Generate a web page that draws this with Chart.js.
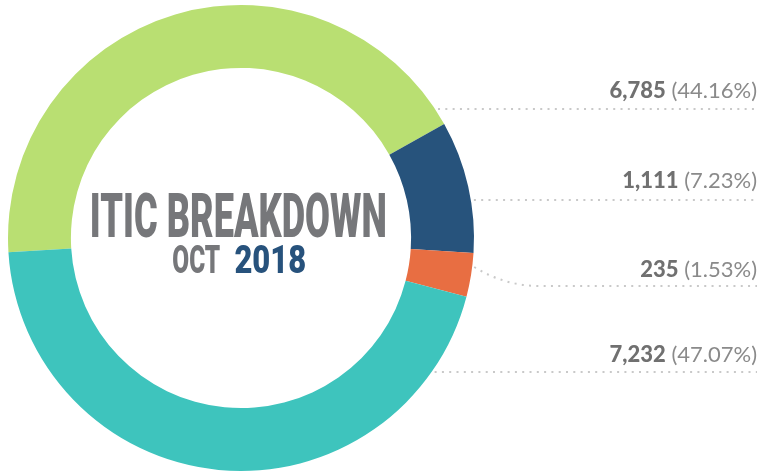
<!DOCTYPE html>
<html>
<head>
<meta charset="utf-8">
<script src="https://cdn.jsdelivr.net/npm/chart.js@4.4.1/dist/chart.umd.min.js"></script>
<style>
  html, body { margin: 0; padding: 0; background: #fff; }
  #itic { display: block; }
</style>
</head>
<body>
<canvas id="itic" width="758" height="475"></canvas>
<script>
"use strict";

// values as printed on the right
const counts = [6785, 1111, 235, 7232];
const countLabels = ["6,785", "1,111", "235", "7,232"];
const percentLabels = ["44.16%", "7.23%", "1.53%", "47.07%"];
// sweep of each slice as drawn in the picture (degrees)
const sliceDegrees = [154.2, 33.0, 10.9, 161.9];
const sliceColors = ["#b9df72", "#27537c", "#e86e42", "#3ec4bd"];

const titleLine = "ITIC BREAKDOWN";
const subLine = ["OCT", "2018"];

// label rows: text baseline and dotted line y
const rowBaseline = [98, 188, 277, 362];
const rowLineY = [109, 200, 286, 372];

const grey = "#76777a";
const blue = "#27527c";

// draw text squeezed into a box (cap height / width)
function fitText(ctx, text, font, left, baseline, width, capH) {
  ctx.save();
  ctx.font = font;
  const m = ctx.measureText(text);
  const sx = width / (m.actualBoundingBoxRight + m.actualBoundingBoxLeft);
  const sy = capH / m.actualBoundingBoxAscent;
  ctx.translate(left, baseline);
  ctx.scale(sx, sy);
  ctx.textAlign = "left";
  ctx.textBaseline = "alphabetic";
  ctx.fillText(text, m.actualBoundingBoxLeft, 0);
  ctx.restore();
}

const centerText = {
  id: "centerText",
  afterDraw(chart) {
    const ctx = chart.ctx;
    const font = "900 100px Roboto, 'DejaVu Sans', sans-serif";
    ctx.fillStyle = grey;
    fitText(ctx, titleLine, font, 92, 237, 293, 45);
    ctx.fillStyle = grey;
    fitText(ctx, subLine[0], font, 173, 273, 47, 28);
    ctx.fillStyle = blue;
    fitText(ctx, subLine[1], font, 235, 273, 70, 28);
  }
};

const leaders = {
  id: "leaders",
  afterDraw(chart) {
    const ctx = chart.ctx;
    const arc = chart.getDatasetMeta(0).data[0];
    const cx = arc.x, cy = arc.y, R = arc.outerRadius;
    const right = 757;

    ctx.save();
    ctx.strokeStyle = "#c9c9c9";
    ctx.lineWidth = 2;
    ctx.setLineDash([2, 5.3]);
    rowLineY.forEach((y, i) => {
      ctx.beginPath();
      if (i === 2) {
        // curved leader out of the small slice
        const y0 = 267;
        const x0 = cx + Math.sqrt(R * R - (y0 - cy) * (y0 - cy)) + 2;
        ctx.moveTo(x0, y0);
        ctx.quadraticCurveTo(505, y, 540, y);
        ctx.lineTo(right, y);
      } else {
        const x0 = cx + Math.sqrt(R * R - (y - cy) * (y - cy)) + 3;
        ctx.moveTo(x0, y);
        ctx.lineTo(right, y);
      }
      ctx.stroke();
    });
    ctx.restore();

    ctx.save();
    ctx.textBaseline = "alphabetic";
    ctx.textAlign = "left";
    const bold = "900 22px Lato, 'Noto Sans', sans-serif";
    const reg = "22px Lato, 'Noto Sans', sans-serif";
    countLabels.forEach((c, i) => {
      const tail = " (" + percentLabels[i] + ")";
      ctx.font = reg;
      const wTail = ctx.measureText(tail).width;
      ctx.font = bold;
      const wHead = ctx.measureText(c).width;
      const x = right - wTail - wHead;
      ctx.fillStyle = "#707070";
      ctx.fillText(c, x, rowBaseline[i]);
      ctx.font = reg;
      ctx.fillStyle = "#8a8a8a";
      ctx.fillText(tail, x + wHead, rowBaseline[i]);
    });
    ctx.restore();
  }
};

const config = {
  type: "doughnut",
  data: {
    labels: countLabels,
    datasets: [
      {
        data: sliceDegrees,
        backgroundColor: sliceColors,
        borderWidth: 0,
      },
    ],
  },
  options: {
    responsive: false,
    animation: false,
    cutout: "73%",
    rotation: 266.5,
    layout: {
      padding: { left: 8, right: 284, top: 5, bottom: 4 },
    },
    plugins: {
      legend: { display: false },
      tooltip: { enabled: false },
    },
  },
  plugins: [centerText, leaders],
};

const itic = new Chart(document.getElementById("itic"), config);
</script>
</body>
</html>
